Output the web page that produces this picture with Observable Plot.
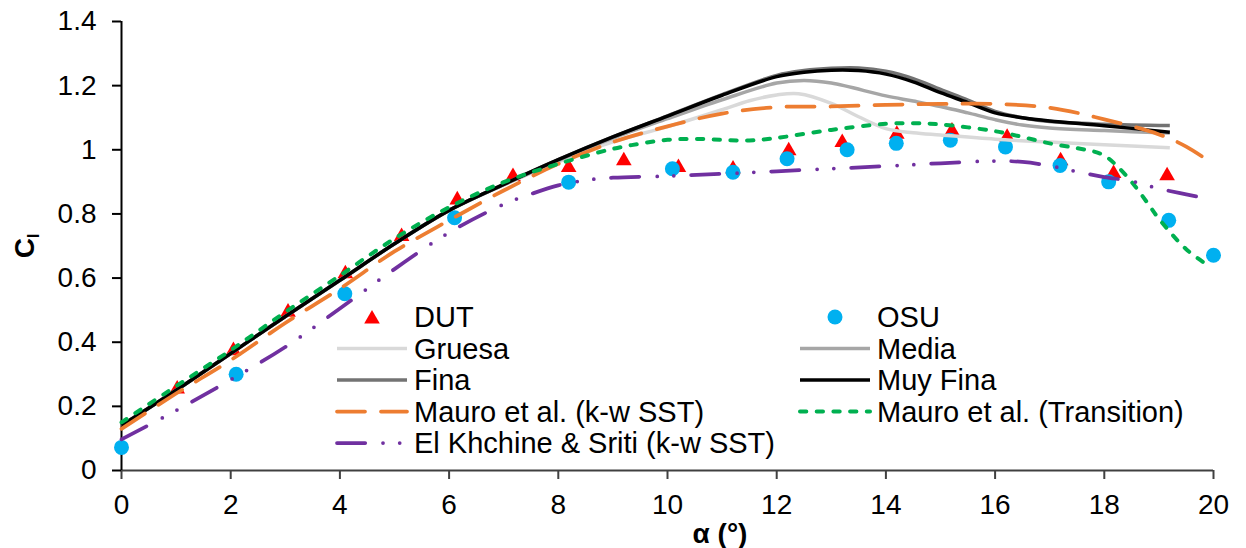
<!DOCTYPE html>
<html><head><meta charset="utf-8">
<script src="https://cdn.jsdelivr.net/npm/d3@7"></script>
<script src="https://cdn.jsdelivr.net/npm/@observablehq/plot@0.6"></script>
<style>
html,body{margin:0;padding:0;background:#fff;}
#chart{position:relative;width:1246px;height:548px;overflow:hidden;background:#fff;}
#chart svg{position:absolute;left:0;top:0;}
</style></head><body><div id="chart"></div>
<script>
// ---- data ----
const xTicks = [0, 2, 4, 6, 8, 10, 12, 14, 16, 18, 20];
const yTicks = [0, 0.2, 0.4, 0.6, 0.8, 1, 1.2, 1.4];

const dutAlpha = [1.02, 2.05, 3.05, 4.1, 5.13, 6.15, 7.17, 8.19, 9.2, 10.2, 11.2, 12.22, 13.2, 14.2, 15.21, 16.22, 17.2, 18.17, 19.15];
const dutCl    = [0.26, 0.38, 0.50, 0.62, 0.736, 0.85, 0.923, 0.951, 0.972, 0.951, 0.946, 1.003, 1.029, 1.055, 1.065, 1.045, 0.972, 0.932, 0.925];

const osuAlpha = [0, 2.1, 4.09, 6.1, 8.19, 10.09, 11.2, 12.19, 13.29, 14.19, 15.18, 16.19, 17.19, 18.08, 19.18, 20];
const osuCl    = [0.072, 0.30, 0.551, 0.788, 0.899, 0.941, 0.93, 0.972, 1.0, 1.02, 1.03, 1.009, 0.951, 0.9, 0.78, 0.671];

const gruesaAlpha = [0, 1, 2, 3, 4, 5, 6, 7, 8, 9, 10, 11, 11.5, 12, 12.4, 13, 13.5, 14, 14.5, 15, 16, 17, 18, 19.2];
const gruesaCl    = [0.14, 0.25, 0.365, 0.48, 0.593, 0.707, 0.811, 0.89, 0.962, 1.025, 1.072, 1.125, 1.153, 1.171, 1.175, 1.145, 1.103, 1.066, 1.053, 1.046, 1.033, 1.024, 1.016, 1.006];

const mediaAlpha = [0, 1, 2, 3, 4, 5, 6, 7, 8, 9, 10, 11, 12, 12.5, 13, 14, 14.5, 15, 15.5, 16, 16.5, 17, 18, 19.2];
const mediaCl    = [0.14, 0.25, 0.365, 0.48, 0.593, 0.707, 0.811, 0.891, 0.966, 1.036, 1.097, 1.156, 1.208, 1.216, 1.208, 1.168, 1.152, 1.135, 1.115, 1.094, 1.077, 1.068, 1.06, 1.052];

const finaAlpha = [0, 1, 2, 3, 4, 5, 6, 7, 8, 9, 10, 11, 12, 12.5, 13, 13.5, 14, 14.5, 15, 15.5, 16, 16.5, 17, 18, 19.2];
const finaCl    = [0.14, 0.25, 0.365, 0.48, 0.593, 0.707, 0.811, 0.892, 0.969, 1.04, 1.106, 1.172, 1.232, 1.247, 1.254, 1.255, 1.245, 1.222, 1.188, 1.155, 1.12, 1.1, 1.088, 1.08, 1.076];

const muyFinaAlpha = [0, 1, 2, 3, 4, 5, 6, 7, 8, 9, 10, 11, 12, 12.5, 13, 13.5, 14, 14.5, 15, 15.5, 16, 16.5, 17, 18, 19.2];
const muyFinaCl    = [0.14, 0.25, 0.365, 0.48, 0.593, 0.707, 0.811, 0.892, 0.969, 1.04, 1.105, 1.17, 1.228, 1.242, 1.248, 1.247, 1.236, 1.212, 1.178, 1.147, 1.115, 1.1, 1.09, 1.075, 1.055];

const mauroSstAlpha = [0, 1, 2, 3, 4, 5, 6, 7, 8, 9, 10, 11, 12, 13, 14, 15, 16, 17, 18, 19, 19.5, 20];
const mauroSstCl    = [0.13, 0.24, 0.344, 0.46, 0.567, 0.683, 0.78, 0.873, 0.956, 1.024, 1.073, 1.113, 1.133, 1.135, 1.14, 1.143, 1.143, 1.131, 1.095, 1.048, 1.01, 0.955];

const mauroTrAlpha = [0, 1, 2, 3, 4, 5, 6, 7, 8, 9, 9.5, 10, 10.5, 11, 11.5, 12, 13, 14, 14.5, 15, 16, 16.5, 17, 17.5, 17.8, 18, 18.2, 18.5, 18.8, 19, 19.5, 19.85];
const mauroTrCl    = [0.15, 0.263, 0.375, 0.494, 0.608, 0.723, 0.821, 0.899, 0.956, 1.003, 1.019, 1.031, 1.034, 1.031, 1.029, 1.037, 1.062, 1.081, 1.083, 1.079, 1.058, 1.04, 1.02, 1.005, 0.995, 0.982, 0.955, 0.9, 0.832, 0.785, 0.69, 0.645];

const elKhAlpha = [0, 1, 2, 3, 4, 5, 6, 7, 7.5, 8, 8.5, 9, 10, 11, 12, 13, 14, 15, 16, 16.5, 17, 17.5, 18, 18.5, 19, 19.5, 20];
const elKhCl    = [0.097, 0.187, 0.283, 0.385, 0.505, 0.628, 0.742, 0.83, 0.862, 0.889, 0.905, 0.913, 0.918, 0.925, 0.933, 0.941, 0.949, 0.958, 0.965, 0.962, 0.95, 0.932, 0.915, 0.902, 0.879, 0.861, 0.844];

const legendLabels = ["DUT", "OSU", "Gruesa", "Media", "Fina", "Muy Fina",
  "Mauro et al. (k-w SST)", "Mauro et al. (Transition)", "El Khchine & Sriti (k-w SST)"];

// ---- styles ----
const FONT = "'Liberation Sans', Arial, Helvetica, sans-serif";
const pts = (xs, ys) => xs.map((x, i) => ({x, y: ys[i]}));
const styles = [
  {type: "tri", color: "#FF0000"},
  {type: "dot", color: "#00B0F0"},
  {type: "line", color: "#D9D9D9", w: 3.5, dash: null, data: pts(gruesaAlpha, gruesaCl)},
  {type: "line", color: "#A6A6A6", w: 3.5, dash: null, data: pts(mediaAlpha, mediaCl)},
  {type: "line", color: "#737373", w: 3.5, dash: null, data: pts(finaAlpha, finaCl)},
  {type: "line", color: "#000000", w: 3.5, dash: null, data: pts(muyFinaAlpha, muyFinaCl)},
  {type: "line", color: "#ED7D31", w: 3.75, dash: "28 16", data: pts(mauroSstAlpha, mauroSstCl)},
  {type: "line", color: "#00B050", w: 4, dash: "6.3 10.4", data: pts(mauroTrAlpha, mauroTrCl)},
  {type: "line", color: "#7030A0", w: 3.75, dash: "28.2 17.8 0 16.7 0 17.4", data: pts(elKhAlpha, elKhCl)}
];

const lineMarks = styles.filter(s => s.type === "line").map(s =>
  Plot.line(s.data, {x: "x", y: "y", curve: "catmull-rom", stroke: s.color, strokeWidth: s.w,
    strokeDasharray: s.dash || undefined, strokeLinecap: s.dash ? "round" : "butt", strokeLinejoin: "round"}));

const plot = Plot.plot({
  width: 1246, height: 548,
  marginLeft: 121, marginRight: 33, marginTop: 21, marginBottom: 78,
  style: {fontFamily: FONT, fontSize: "28px", color: "#000", background: "#fff", overflow: "visible"},
  x: {domain: [0, 20]},
  y: {domain: [0, 1.4]},
  marks: [
    Plot.axisX({ticks: xTicks, tickSize: 9, tickPadding: 15, strokeWidth: 2, stroke: "#404040", fill: "#000",
      fontSize: 28, label: null, tickFormat: d => String(d)}),
    Plot.axisY({ticks: yTicks, tickSize: 9, tickPadding: 16, strokeWidth: 2, stroke: "#000", fill: "#000",
      fontSize: 28, label: null, tickFormat: d => String(Math.round(d * 10) / 10)}),
    Plot.ruleY([0], {stroke: "#404040", strokeWidth: 2}),
    Plot.ruleX([0], {stroke: "#000", strokeWidth: 2}),
    Plot.dot(pts(dutAlpha, dutCl), {x: "x", y: "y", symbol: "triangle", r: 5.8, fill: "#FF0000", stroke: "none", dy: 2}),
    Plot.dot(pts(osuAlpha, osuCl), {x: "x", y: "y", symbol: "circle", r: 7.5, fill: "#00B0F0", stroke: "none"}),
    ...lineMarks
  ]
});

const chart = document.getElementById("chart");
chart.appendChild(plot);

// ---- axis titles ----
const svg = d3.select(plot);
const yl = svg.append("text")
  .attr("transform", "translate(34,246) rotate(-90)")
  .attr("text-anchor", "middle")
  .style("font-family", FONT).style("font-size", "28px").style("font-weight", "bold").attr("fill", "#000")
  .text("C");
yl.append("tspan").attr("dy", 5).style("font-size", "16px").text("l");

svg.append("text")
  .attr("x", 720).attr("y", 543).attr("text-anchor", "middle")
  .style("font-family", FONT).style("font-size", "28px").style("font-weight", "bold").attr("fill", "#000")
  .text("α (°)");

// ---- legend overlay ----
const leg = d3.select(chart).append("svg")
  .attr("width", 1246).attr("height", 548).style("pointer-events", "none");
const colX = [337, 800], textX = [414, 877];
legendLabels.forEach((label, i) => {
  const c = i % 2, r = Math.floor(i / 2);
  const cy = 317 + r * 31.5;
  const s = styles[i];
  if (s.type === "line") {
    leg.append("line").attr("x1", colX[c]).attr("x2", colX[c] + 70).attr("y1", cy).attr("y2", cy)
      .attr("stroke", s.color).attr("stroke-width", s.w)
      .attr("stroke-dasharray", s.dash).attr("stroke-linecap", s.dash ? "round" : "butt");
  } else if (s.type === "tri") {
    leg.append("path").attr("d", d3.symbol(d3.symbolTriangle, Math.PI * 5.8 * 5.8)())
      .attr("transform", `translate(${colX[c] + 35},${cy + 2})`).attr("fill", s.color);
  } else {
    leg.append("circle").attr("cx", colX[c] + 35).attr("cy", cy).attr("r", 7.5).attr("fill", s.color);
  }
  leg.append("text").attr("x", textX[c]).attr("y", cy + 10)
    .style("font-family", FONT).style("font-size", "29px").attr("fill", "#000").text(label);
});
</script></body></html>
